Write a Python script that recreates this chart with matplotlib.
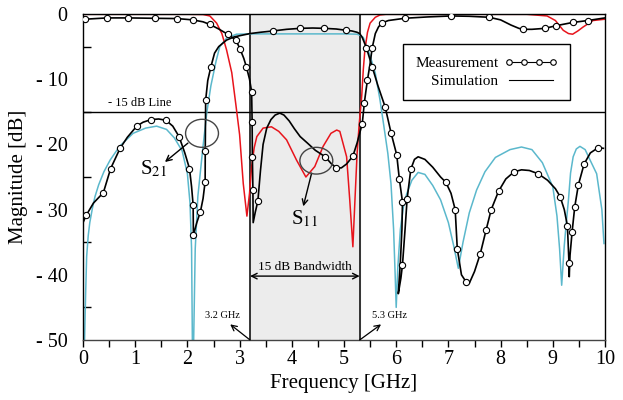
import matplotlib
matplotlib.use("Agg")
import matplotlib.pyplot as plt
from matplotlib.lines import Line2D
from matplotlib.patches import Ellipse

plt.rcParams['font.family'] = ['Liberation Serif', 'DejaVu Serif']
plt.rcParams['mathtext.fontset'] = 'stix'

# S11 simulation (red)
s11_sim_f = [0.0, 0.5, 1.0, 1.5, 2.0, 2.3, 2.43, 2.56, 2.66, 2.75, 2.85, 2.93, 3.0, 3.07, 3.14,
             3.19, 3.23, 3.28, 3.33, 3.45, 3.61, 3.75, 3.9, 4.09, 4.27, 4.44, 4.6, 4.75, 4.86,
             4.92, 5.05, 5.11, 5.17, 5.21, 5.25, 5.29, 5.34, 5.37, 5.4, 5.45, 5.5, 5.6, 5.69,
             5.8, 6.5, 7.5, 8.5, 8.89, 9.05, 9.2, 9.3, 9.38, 9.48, 9.58, 9.77, 10.0]
s11_sim_db = [-0.05, -0.05, -0.05, -0.05, -0.05, -0.08, -0.3, -1.4, -3.0, -5.5, -9.0, -14.0,
              -18.5, -26.0, -31.0, -27.5, -23.4, -20.5, -18.8, -17.5, -17.3, -18.0, -19.3,
              -22.4, -25.0, -23.4, -20.3, -18.3, -17.8, -18.0, -21.9, -28.5, -35.7, -28.5,
              -21.5, -17.0, -12.5, -8.5, -5.5, -2.8, -1.4, -0.5, -0.15, -0.05, -0.05, -0.05,
              -0.05, -0.3, -1.0, -2.5, -3.0, -3.1, -2.6, -2.0, -1.0, -0.8]

# S11 measurement (black line + markers)
s11_meas_f = [0.0, 0.04, 0.46, 0.87, 1.37, 1.8, 2.1, 2.3, 2.43, 2.6, 2.77, 2.93, 3.01, 3.08,
              3.13, 3.19, 3.23, 3.24, 3.245, 3.255, 3.26, 3.3, 3.35, 3.4, 3.45, 3.52, 3.6,
              3.68, 3.77, 3.85, 3.95, 4.05, 4.16, 4.3, 4.45, 4.64, 4.75, 4.85, 4.95, 5.05,
              5.17, 5.25, 5.3, 5.35, 5.39, 5.42, 5.45, 5.5, 5.54, 5.6, 5.66, 5.72, 5.85, 6.17,
              6.6, 7.05, 7.4, 7.78, 8.0, 8.2, 8.35, 8.43, 8.6, 8.85, 9.06, 9.38, 9.67, 10.0]
s11_meas_db = [-0.85, -0.8, -0.6, -0.6, -0.66, -0.7, -0.9, -1.2, -1.6, -2.3, -3.1, -4.0,
               -5.4, -6.8, -8.1, -10.0, -11.9, -16.5, -22.0, -27.0, -32.0, -30.4, -28.7,
               -24.0, -20.0, -17.5, -16.2, -15.5, -15.2, -15.5, -16.4, -17.6, -18.8, -19.8,
               -20.9, -21.9, -22.9, -23.6, -23.6, -23.0, -21.8, -19.8, -18.3, -16.8, -13.6,
               -11.8, -10.1, -7.6, -5.2, -3.0, -2.0, -1.4, -1.0, -0.65, -0.45, -0.3, -0.35,
               -0.5, -0.9, -1.7, -2.2, -2.35, -2.35, -2.2, -1.8, -1.3, -1.0, -0.6]
s11_mark_f = [0.04, 0.46, 0.87, 1.37, 1.8, 2.1, 2.43, 2.77, 2.93, 3.01, 3.13, 3.23, 3.24,
              3.245, 3.255, 3.35, 4.64, 4.85, 5.17, 5.35, 5.39, 5.45, 5.54, 5.72, 6.17, 7.05,
              7.78, 8.43, 8.85, 9.06, 9.38, 9.67]
s11_mark_db = [-0.8, -0.6, -0.6, -0.66, -0.7, -0.9, -1.6, -3.1, -4.0, -5.4, -8.1, -11.9,
               -16.5, -22.0, -27.0, -28.7, -21.9, -23.6, -21.8, -16.8, -13.6, -10.1, -5.2,
               -1.4, -0.65, -0.3, -0.5, -2.35, -2.2, -1.8, -1.3, -1.0]

# S21 simulation (cyan)
s21_sim_f = [0.03, 0.05, 0.07, 0.1, 0.13, 0.18, 0.23, 0.3, 0.4, 0.52, 0.7, 0.96, 1.2, 1.41,
             1.6, 1.75, 1.9, 2.0, 2.05, 2.08, 2.095, 2.12, 2.15, 2.2, 2.29, 2.37, 2.45, 2.55,
             2.62, 2.75, 2.94, 3.2, 4.0, 5.0, 5.25, 5.32, 5.37, 5.46, 5.53, 5.6, 5.69, 5.76,
             5.84, 5.9, 5.95, 5.98, 6.0, 6.03, 6.08, 6.14, 6.2, 6.3, 6.42, 6.55, 6.7, 6.85,
             7.0, 7.1, 7.19, 7.28, 7.4, 7.54, 7.7, 7.9, 8.18, 8.4, 8.6, 8.8, 9.0, 9.08, 9.13,
             9.17, 9.22, 9.27, 9.3, 9.34, 9.39, 9.45, 9.52, 9.62, 9.72, 9.84, 9.94, 9.98]
s21_sim_db = [-50.0, -43.0, -37.2, -34.0, -32.0, -29.8, -28.0, -26.2, -24.2, -22.4, -20.3,
              -18.3, -17.5, -17.2, -17.7, -19.0, -21.0, -24.5, -29.0, -36.0, -50.0, -50.0,
              -36.0, -28.0, -21.0, -15.2, -11.0, -7.2, -5.0, -3.7, -3.1, -3.05, -3.05, -3.05,
              -3.1, -3.3, -3.6, -5.5, -7.2, -9.1, -13.2, -17.0, -21.4, -26.0, -33.0, -40.0,
              -45.0, -39.0, -33.0, -29.5, -27.6, -25.5, -24.3, -24.6, -26.3, -28.5, -32.0,
              -35.5, -39.0, -35.0, -30.5, -27.0, -24.2, -22.0, -20.8, -20.4, -20.8, -22.8,
              -26.5, -31.0, -36.0, -41.6, -35.5, -31.0, -28.5, -24.4, -21.9, -20.7, -20.3,
              -20.8, -22.5, -24.5, -30.0, -35.2]

# S21 measurement (black line + markers)
s21_meas_f = [0.0, 0.06, 0.2, 0.39, 0.53, 0.71, 0.85, 1.03, 1.15, 1.3, 1.45, 1.59, 1.72,
              1.84, 1.95, 2.04, 2.08, 2.11, 2.115, 2.18, 2.25, 2.3, 2.34, 2.342, 2.35, 2.39,
              2.45, 2.52, 2.6, 2.75, 2.9, 3.2, 3.4, 3.64, 3.9, 4.16, 4.4, 4.62, 4.85, 5.04,
              5.15, 5.25, 5.3, 5.35, 5.43, 5.54, 5.65, 5.79, 5.9, 6.01, 6.06, 6.12, 6.11, 6.08,
              6.04, 6.09, 6.12, 6.17, 6.21, 6.28, 6.35, 6.42, 6.55, 6.7, 6.85, 6.95, 7.05,
              7.13, 7.17, 7.25, 7.34, 7.4, 7.5, 7.61, 7.72, 7.82, 7.96, 8.1, 8.26, 8.4, 8.55,
              8.72, 8.9, 9.05, 9.14, 9.22, 9.28, 9.31, 9.315, 9.33, 9.37, 9.42, 9.49, 9.6,
              9.72, 9.87, 9.97]
s21_meas_db = [-32.0, -30.9, -29.0, -27.4, -23.7, -20.6, -18.9, -17.2, -16.6, -16.2, -16.1,
               -16.3, -17.2, -18.8, -21.3, -23.7, -26.5, -29.3, -33.9, -32.0, -30.3, -28.3,
               -25.7, -21.0, -13.2, -10.2, -8.1, -6.0, -5.0, -4.0, -3.5, -3.0, -2.8, -2.6,
               -2.35, -2.2, -2.15, -2.2, -2.3, -2.5, -2.6, -2.8, -3.0, -3.6, -5.2, -8.1,
               -11.0, -14.3, -18.2, -21.6, -25.3, -28.8, -33.0, -38.0, -42.9, -40.5, -38.5,
               -33.0, -28.3, -23.8, -22.3, -21.9, -22.3, -23.5, -25.0, -25.8, -27.5, -30.0,
               -36.0, -40.0, -41.1, -41.3, -39.5, -36.8, -33.2, -30.0, -27.2, -25.3, -24.2,
               -23.9, -24.0, -24.5, -25.5, -26.8, -28.0, -30.0, -32.5, -38.2, -40.3, -37.0,
               -33.4, -29.6, -26.2, -23.0, -21.3, -20.5, -20.6]
s21_mark_f = [0.06, 0.39, 0.53, 0.71, 1.03, 1.3, 1.59, 1.84, 2.04, 2.11, 2.115, 2.25, 2.34,
              2.342, 2.35, 2.45, 3.64, 4.16, 4.62, 5.04, 5.43, 5.54, 5.79, 5.9, 6.01, 6.06,
              6.12, 6.12, 6.21, 6.28, 6.95, 7.13, 7.17, 7.34, 7.61, 7.72, 7.82, 7.96, 8.26,
              8.72, 9.14, 9.28, 9.31, 9.37, 9.42, 9.49, 9.6, 9.87]
s21_mark_db = [-30.9, -27.4, -23.7, -20.6, -17.2, -16.2, -16.3, -18.8, -23.7, -29.3, -33.9,
               -30.3, -25.7, -21.0, -13.2, -8.1, -2.6, -2.2, -2.2, -2.5, -5.2, -8.1, -14.3,
               -18.2, -21.6, -25.3, -28.8, -38.5, -28.3, -23.8, -25.8, -30.0, -36.0, -41.1,
               -36.8, -33.2, -30.0, -27.2, -24.2, -24.5, -28.0, -32.5, -38.2, -33.4, -29.6,
               -26.2, -23.0, -20.5]

band_lo = 3.2
band_hi = 5.3
line_level = -15
xtick_vals = [0, 1, 2, 3, 4, 5, 6, 7, 8, 9, 10]
ytick_vals = [-50, -40, -30, -20, -10, 0]
ytick_labels = ['- 50', '- 40', '- 30', '- 20', '- 10', '0']

fig = plt.figure(figsize=(6.23, 4.0), dpi=100)
ax = fig.add_axes([83 / 623, 60 / 400, 522 / 623, 326 / 400])

ax.axvspan(band_lo, band_hi, color='#ececec', zorder=0)
ax.axvline(band_lo, color='black', lw=1.1, zorder=1)
ax.axvline(band_hi, color='black', lw=1.1, zorder=1)
ax.axhline(line_level, color='black', lw=1.0, zorder=1)

ax.plot(s21_sim_f, s21_sim_db, color='#5bb8cc', lw=1.1, zorder=2)
ax.plot(s11_sim_f, s11_sim_db, color='#e8141c', lw=1.1, zorder=2)
ax.plot(s21_meas_f, s21_meas_db, color='black', lw=1.2, zorder=3)
ax.plot(s11_meas_f, s11_meas_db, color='black', lw=1.2, zorder=3)
ax.plot(s21_mark_f, s21_mark_db, ls='none', marker='o', ms=4.5, mfc='white', mec='black',
        mew=0.8, zorder=4)
ax.plot(s11_mark_f, s11_mark_db, ls='none', marker='o', ms=4.5, mfc='white', mec='black',
        mew=0.8, zorder=4)

ax.set_xlim(0, 10)
ax.set_ylim(-50, 0)
ax.set_xticks(xtick_vals)
ax.set_xticks([x + 0.5 for x in xtick_vals[:-1]], minor=True)
ax.set_yticks(ytick_vals)
ax.set_yticklabels(ytick_labels)
ax.set_yticks([-45, -35, -25, -15, -5], minor=True)
ax.tick_params(axis='x', which='both', direction='out', length=5, width=1, labelsize=14.5, pad=2)
ax.tick_params(axis='y', which='major', length=0, labelsize=14.5, pad=11)
ax.tick_params(axis='y', which='minor', direction='in', length=6, width=1)
for s in ax.spines.values():
    s.set_linewidth(1.0)
    s.set_color('black')
ax.spines['bottom'].set_color('#444444')

ax.set_xlabel('Frequency [GHz]', fontsize=15, labelpad=4)
ax.set_ylabel('Magnitude [dB]', fontsize=15, labelpad=6)

# annotations
ax.text(0.47, -14.6, '- 15 dB Line', fontsize=9, ha='left', va='bottom')
ax.annotate('', xy=(band_lo, -40.2), xytext=(band_hi, -40.2),
            arrowprops=dict(arrowstyle='<->', color='black', lw=1.0, shrinkA=0, shrinkB=0))
ax.text((band_lo + band_hi) / 2, -39.7, '15 dB Bandwidth', fontsize=9.5, ha='center', va='bottom')
ax.annotate('', xy=(2.82, -47.6), xytext=(band_lo, -50),
            arrowprops=dict(arrowstyle='->', color='black', lw=0.9, shrinkA=0, shrinkB=0))
ax.text(2.68, -46.3, '3.2 GHz', fontsize=7.5, ha='center', va='center')
ax.annotate('', xy=(5.71, -47.6), xytext=(band_hi, -50),
            arrowprops=dict(arrowstyle='->', color='black', lw=0.9, shrinkA=0, shrinkB=0))
ax.text(5.88, -46.3, '5.3 GHz', fontsize=7.5, ha='center', va='center')

ax.add_patch(Ellipse((2.28, -18.3), 0.63, 4.3, fill=False, ec='#444444', lw=1.0, zorder=5))
ax.annotate('', xy=(1.57, -22.7), xytext=(2.01, -19.8),
            arrowprops=dict(arrowstyle='->', color='black', lw=1.0, shrinkA=0, shrinkB=0))
ax.text(1.35, -23.8, r'S$_{\rm 21}$', fontsize=15, ha='center', va='center')

ax.add_patch(Ellipse((4.47, -22.5), 0.63, 4.1, fill=False, ec='#444444', lw=1.0, zorder=5))
ax.annotate('', xy=(4.22, -29.5), xytext=(4.38, -24.4),
            arrowprops=dict(arrowstyle='->', color='black', lw=1.0, shrinkA=0, shrinkB=0))
ax.text(4.25, -31.4, r'S$_{\rm 11}$', fontsize=15, ha='center', va='center')

handles = [Line2D([], [], color='black', lw=0.8, marker='o', ms=4, mfc='white', mec='black', mew=0.8),
           Line2D([], [], color='black', lw=0.8)]
leg = ax.legend(handles, ['Measurement', 'Simulation'], loc='upper left',
                bbox_to_anchor=(0.613, 0.908), markerfirst=False, numpoints=4,
                fontsize=11, handlelength=3.5, handletextpad=0.4, borderpad=0.8,
                labelspacing=0.3, fancybox=False, framealpha=1, edgecolor='black',
                borderaxespad=0)
leg.get_frame().set_linewidth(1.0)

fig.savefig('out.png', dpi=100)
